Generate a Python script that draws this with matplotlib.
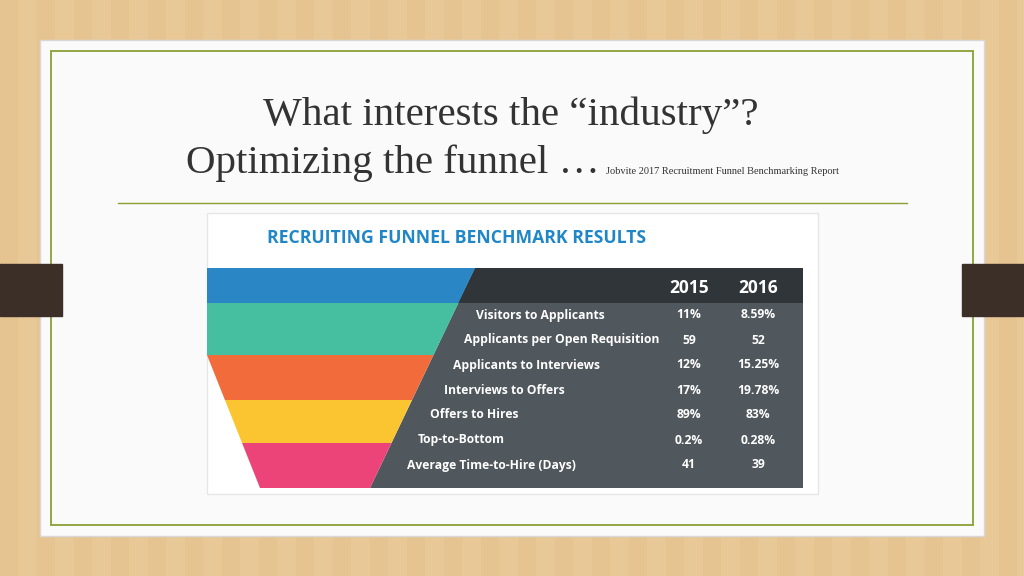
import matplotlib
matplotlib.use("Agg")
import matplotlib.pyplot as plt
from matplotlib.patches import Rectangle, Polygon
import numpy as np

metrics = ["Visitors to Applicants", "Applicants per Open Requisition",
           "Applicants to Interviews", "Interviews to Offers", "Offers to Hires",
           "Top-to-Bottom", "Average Time-to-Hire (Days)"]
values_2015 = ["11%", "59", "12%", "17%", "89%", "0.2%", "41"]
values_2016 = ["8.59%", "52", "15.25%", "19.78%", "83%", "0.28%", "39"]
years = ["2015", "2016"]

fig = plt.figure(figsize=(10.24, 5.76), dpi=100)
ax = fig.add_axes([0, 0, 1, 1])
ax.set_xlim(0, 1024); ax.set_ylim(576, 0); ax.axis("off")

ax.add_patch(Rectangle((0, 0), 1024, 576, color="#e9c897"))
for x in range(0, 1024, 37):
    ax.add_patch(Rectangle((x, 0), 18, 576, color="#e2bd88", alpha=0.35, lw=0))
ax.add_patch(Rectangle((40, 40), 944, 496, color="#fafafa", ec="#d8d8d8"))
ax.add_patch(Rectangle((51, 51), 922, 474, fill=False, ec="#8aa034", lw=1.3))
ax.add_patch(Rectangle((0, 264), 62, 52, color="#3b2f27"))
ax.add_patch(Rectangle((962, 264), 62, 52, color="#3b2f27"))

ax.text(511, 115, "What interests the \u201cindustry\u201d?", ha="center", va="center",
        fontsize=29.5, family="Liberation Serif", color="#333333")
ax.text(186, 163, "Optimizing the funnel \u2026", ha="left", va="center",
        fontsize=29.5, family="Liberation Serif", color="#333333")
ax.text(606, 172, "Jobvite 2017 Recruitment Funnel Benchmarking Report", ha="left",
        va="center", fontsize=7.5, family="Liberation Serif", color="#333333")
ax.plot([118, 907], [203, 203], color="#8aa034", lw=1)

ax.add_patch(Rectangle((207, 213), 611, 281, color="white", ec="#e6e6e6"))
ax.text(267, 238, "RECRUITING FUNNEL BENCHMARK RESULTS", ha="left", va="center",
        fontsize=12.7, fontweight="bold", color="#1f87c8", family="Open Sans")

def rx(y):
    return 475 + (370 - 475) * (y - 268) / (488 - 268)
def lx(y):
    return 207 if y <= 355 else 207 + (260 - 207) * (y - 355) / (488 - 355)

ax.add_patch(Polygon([(rx(268), 268), (803, 268), (803, 488), (rx(488), 488)],
                     color="#50575d", lw=0))
ax.add_patch(Polygon([(rx(268), 268), (803, 268), (803, 303), (rx(303), 303)],
                     color="#2f3539", lw=0))
bands = [(268, 303, "#2a86c4"), (303, 355, "#3dbba0"), (355, 400, "#f26b3a"),
         (400, 443, "#fbc531"), (443, 488, "#ec4479")]
for y0, y1, c in bands:
    ax.add_patch(Polygon([(lx(y0), y0), (rx(y0), y0), (rx(y1), y1), (lx(y1), y1)],
                         color=c, lw=0))
ax.add_patch(Polygon([(207, 303), (rx(303), 303), (rx(355), 355), (207, 355)],
                     color="#4fc3a1", lw=0, alpha=0.5))

for yr, x in zip(years, [689, 758]):
    ax.text(x, 288, yr, ha="center", va="center", color="white",
            fontsize=12.5, fontweight="bold", family="Open Sans")
ys = np.arange(len(metrics)) * 25 + 315
lefts = [476, 464, 453, 444, 430, 418, 407]
for m, a, b, y, x in zip(metrics, values_2015, values_2016, ys, lefts):
    ax.text(x, y, m, ha="left", va="center", color="white", fontsize=8.7,
            fontweight="bold", family="Open Sans")
    ax.text(689, y, a, ha="center", va="center", color="white", fontsize=8.7,
            fontweight="bold", family="Open Sans")
    ax.text(758, y, b, ha="center", va="center", color="white", fontsize=8.7,
            fontweight="bold", family="Open Sans")

fig.savefig("out.png", dpi=100)
